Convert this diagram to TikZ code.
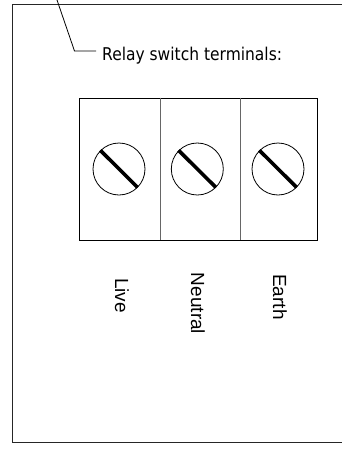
\documentclass[tikz,border=0pt]{standalone}
\usepackage{fontspec}
\newfontfamily\arialike{Liberation Sans}
\newfontfamily\tahomalike[FakeStretch=0.88]{DejaVu Sans}
\tikzset{
  wire/.style={draw=black,line width=0.8pt},
  divider/.style={draw=black!60,line width=1pt},
  screw/.style={circle,draw=black,line width=0.8pt,minimum size=52pt,inner sep=0pt,fill=white},
  slot/.style={draw=black,line width=3.6pt},
  vlabel/.style={rotate=-90,inner sep=0pt,font=\arialike\fontsize{19}{19}\selectfont},
  title/.style={inner sep=0pt,anchor=west,font=\tahomalike\fontsize{17.6}{18}\selectfont}
}
\begin{document}
\begin{tikzpicture}[x=1pt,y=-1pt]
\useasboundingbox (0,0) rectangle (342,450);
% outer frame (open to the right)
\coordinate (ftr) at (342,4.5);
\coordinate (ftl) at (12.5,4.5);
\coordinate (fbl) at (12.5,442.5);
\coordinate (fbr) at (342,442.5);
\draw[draw=black!85,line width=1.3pt] (ftr) -- (ftl) -- (fbl) -- (fbr);
% leader
\node[title] (ttl) at (102,56) {Relay switch terminals:};
\coordinate (la) at (57,0);
\coordinate (lb) at (74.5,51);
\coordinate (lc) at (96,51);
\draw[wire] (la) -- (lb) -- (lc);
% terminal block
\node[draw=black,line width=1pt,minimum width=237.5pt,minimum height=142.5pt,inner sep=0pt,anchor=north west] (block) at (79,97.5) {};
\coordinate (d1t) at (160,97.5);
\coordinate (d1b) at (160,240);
\coordinate (d2t) at (240.6,97.5);
\coordinate (d2b) at (240.6,240);
\draw[divider] (d1t) -- (d1b);
\draw[divider] (d2t) -- (d2b);
% screws
\node[screw] (s1) at (119,169) {};
\node[screw] (s2) at (197.3,169) {};
\node[screw] (s3) at (278,169) {};
\draw[slot] (100.3,150.3) -- (137.5,187.3);
\draw[slot] (178.5,150.3) -- (215.8,187.3);
\draw[slot] (259.3,150.3) -- (296.6,187.3);
% labels
\node[vlabel] (live) at (122,295.5) {Live};
\node[vlabel] (neutral) at (198,303.5) {Neutral};
\node[vlabel] (earth) at (280,297) {Earth};
\end{tikzpicture}
\end{document}
